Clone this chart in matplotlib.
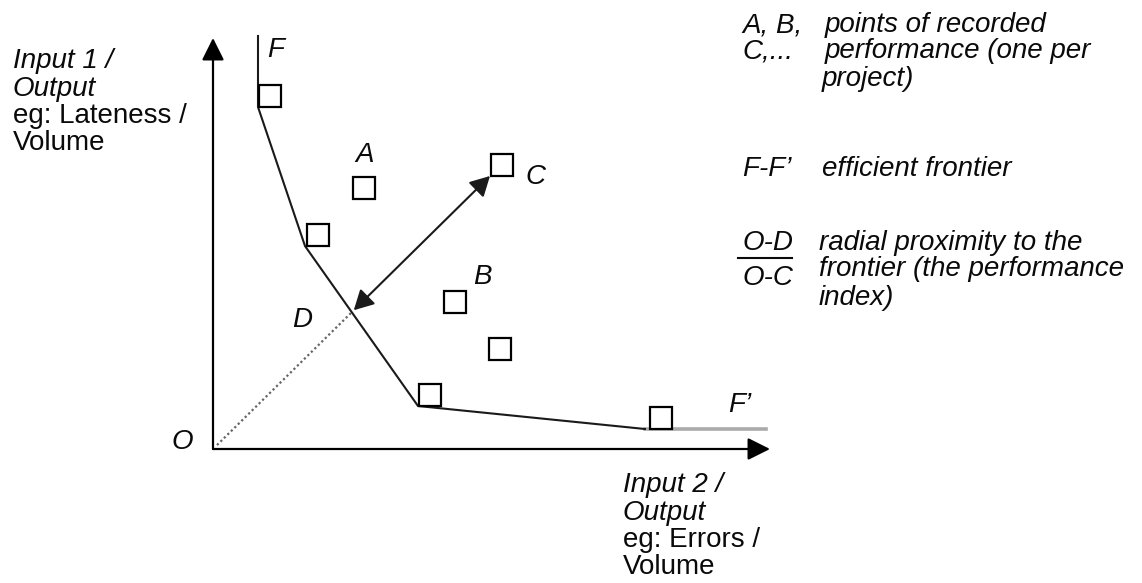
import matplotlib
matplotlib.use("Agg")

import matplotlib.pyplot as plt

# chart units: origin at O, one unit is about one pixel of the output
frontier_x = [45, 45, 92, 205, 432]
frontier_y = [413, 342, 203, 43, 20]
tail_x = [432, 553]
tail_y = [20, 20]

square_x = [56.5, 104.5, 151, 288.5, 242, 287, 217, 448]
square_y = [353.5, 214.5, 261, 284, 147, 100, 54, 31]

c_corner = (277, 273)

point_labels = ["F", "A", "B", "C", "D", "O", "F\u2019"]
label_x = [54, 152, 269, 322, 89, -31, 527]
label_y = [392, 294, 172, 272, 129, 7, 44]

left_lines = ["Input 1 /", "Output", "eg: Lateness /", "Volume"]
bottom_lines = ["Input 2 /", "Output", "eg: Errors /", "Volume"]
line_italic = [True, True, False, False]

FONT = ["Liberation Sans", "DejaVu Sans"]
FS = 20
INK = "#0a0a0a"

fig = plt.figure(figsize=(11.42, 5.83), dpi=100)
ax = fig.add_axes([0, 0, 1, 1])
ax.set_xlim(-213, 929)
ax.set_ylim(-134, 449)
ax.axis("off")

# axes with arrow heads
axis_arrow = dict(arrowstyle="-|>,head_length=0.4,head_width=0.2", lw=1.6,
                  color="black", mutation_scale=34, shrinkA=0, shrinkB=0)
ax.annotate("", xy=(0, 411), xytext=(0, 0), arrowprops=axis_arrow)
ax.annotate("", xy=(557, 0), xytext=(0, 0), arrowprops=axis_arrow)

# efficient frontier
ax.plot(frontier_x, frontier_y, color="#1a1a1a", lw=1.5, zorder=2)
ax.plot(tail_x, tail_y, color="#aaaaaa", lw=2.6, zorder=1)

# point D: where the ray O-C crosses the frontier segment
x1, y1, x2, y2 = frontier_x[2], frontier_y[2], frontier_x[3], frontier_y[3]
k = c_corner[1] / c_corner[0]
m = (y2 - y1) / (x2 - x1)
dx = (y1 - m * x1) / (k - m)
dy = k * dx

ax.plot([4, dx], [4 * k, dy], color="#666666", lw=1.6, ls=(0, (1, 1.2)), zorder=1)
ax.annotate("", xy=c_corner, xytext=(dx + 2, dy + 2),
            arrowprops=dict(arrowstyle="<|-|>,head_length=0.5,head_width=0.27",
                            lw=1.5, color="#1a1a1a", mutation_scale=24,
                            shrinkA=0, shrinkB=0))

ax.plot(square_x, square_y, ls="none", marker="s", ms=15.5, mfc="white",
        mec="black", mew=1.6, zorder=3)

for t, x, y in zip(point_labels, label_x, label_y):
    ha, va = ("left", "baseline") if t == "F" else ("center", "center")
    ax.text(x, y, t, family=FONT, style="italic", fontsize=FS, color=INK,
            ha=ha, va=va)

for i, t in enumerate(left_lines):
    ax.text(-200, 381 - 27.5 * i, t, family=FONT, fontsize=FS, color=INK,
            style="italic" if line_italic[i] else "normal", va="baseline")

for i, t in enumerate(bottom_lines):
    ax.text(410, -43 - 27.5 * i, t, family=FONT, fontsize=FS, color=INK,
            style="italic" if line_italic[i] else "normal", va="baseline")

# key on the right
def key(x, y, t):
    ax.text(x, y, t, family=FONT, style="italic", fontsize=FS, color=INK,
            va="baseline")

key(529, 417, "A, B,")
key(529, 391, "C,...")
key(612, 417, "points of recorded")
key(612, 391, "performance (one per")
key(609, 363, "project)")

key(529, 273, "F-F\u2019")
key(609, 273, "efficient frontier")

key(529, 199, "O-D")
key(529, 164, "O-C")
ax.plot([525, 579], [191, 191], color=INK, lw=1.5)
key(606, 199, "radial proximity to the")
key(606, 173, "frontier (the performance")
key(606, 144, "index)")

fig.savefig("out.png", dpi=100, facecolor="white")
plt.close(fig)
